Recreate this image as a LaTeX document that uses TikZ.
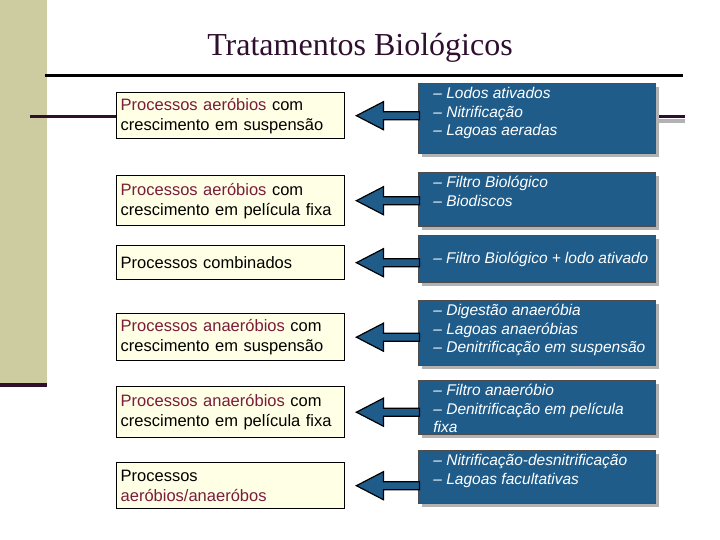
\documentclass[tikz,border=0pt]{standalone}
\usepackage{fontspec}
\setmainfont{Liberation Sans}
\newfontfamily\tituloFont{Liberation Serif}
\usetikzlibrary{shadows}

\definecolor{azul}{HTML}{1F5C8A}
\definecolor{creme}{HTML}{FFFFE6}
\definecolor{vinho}{HTML}{7A1C3A}
\definecolor{roxo}{HTML}{2E0F2E}
\definecolor{oliva}{HTML}{CDCCA0}

\newcommand{\realce}[1]{\textcolor{vinho}{#1}}
\newcommand{\itens}[2]{\parbox[t][#1pt][t]{215pt}{\raggedright #2}}

\begin{document}
\begin{tikzpicture}
			[x=1pt,y=-1pt,line join=miter,
			%Styles
			processo/.style={draw=black,line width=1.4pt,fill=creme,anchor=north west,
				minimum width=228pt,text width=220pt,inner xsep=4pt,inner ysep=0pt,align=left,
				font=\fontsize{16.5}{20}\selectfont},
			exemplo/.style={draw=black!70,line width=0.8pt,fill=azul,anchor=north west,
				inner xsep=0pt,inner ysep=0pt,text=white,font=\fontsize{15.5}{18.5}\selectfont\itshape,
				drop shadow={shadow xshift=4pt,shadow yshift=-4pt,opacity=1,fill=gray!60}},
			seta/.style={fill=azul,draw=black,line width=1.2pt}
			]
			
			%Background
			\useasboundingbox (0,0) rectangle (720,540);
			\fill[oliva] (0,0) rectangle (47,383);
			\fill[roxo] (0,383) rectangle (47,387);
			\draw[black,line width=3pt] (45,76) -- (683,76);
			\draw[roxo,line width=3pt] (30,117) -- (116,117);
			\draw[gray!60,line width=4pt] (657,121) -- (685,121);
			\draw[roxo,line width=3pt] (655,117) -- (685,117);
			\node[font=\tituloFont\fontsize{32}{36}\selectfont,text=roxo] (titulo) at (360,48) {Tratamentos Biológicos};
			
			%The graphic
			\node[processo,minimum height=46pt] (p1) at (116,92) {\realce{Processos aeróbios} com\\crescimento em suspensão};
			\node[processo,minimum height=50pt] (p2) at (116,175) {\realce{Processos aeróbios} com\\crescimento em película fixa};
			\node[processo,minimum height=34pt] (p3) at (116,245) {Processos combinados};
			\node[processo,minimum height=47pt] (p4) at (116,313) {\realce{Processos anaeróbios} com\\crescimento em suspensão};
			\node[processo,minimum height=51pt] (p5) at (116,386) {\realce{Processos anaeróbios} com\\crescimento em película fixa};
			\node[processo,minimum height=46pt] (p6) at (116,462) {Processos\\\realce{aeróbios/anaeróbos}};
			
			\node[exemplo] (b1) at (418,83) {\hspace*{15pt}\itens{70}{\vspace*{4pt}– Lodos ativados\\– Nitrificação\\– Lagoas aeradas}\hspace*{7pt}};
			\node[exemplo] (b2) at (418,172) {\hspace*{15pt}\itens{54}{\vspace*{4pt}– Filtro Biológico\\– Biodiscos}\hspace*{7pt}};
			\node[exemplo] (b3) at (418,235) {\hspace*{15pt}\itens{47}{\vspace*{17pt}– Filtro Biológico + lodo ativado}\hspace*{7pt}};
			\node[exemplo] (b4) at (418,300) {\hspace*{15pt}\itens{65}{\vspace*{4pt}– Digestão anaeróbia\\– Lagoas anaeróbias\\– Denitrificação em suspensão}\hspace*{7pt}};
			\node[exemplo] (b5) at (418,380) {\hspace*{15pt}\itens{54}{\vspace*{4pt}– Filtro anaeróbio\\– Denitrificação em película fixa}\hspace*{7pt}};
			\node[exemplo] (b6) at (418,450) {\hspace*{15pt}\itens{53}{\vspace*{4pt}– Nitrificação-desnitrificação\\– Lagoas facultativas}\hspace*{7pt}};
			
			\foreach \i in {1,...,6}
				\draw[seta] ([xshift=11pt]p\i.east) -- ++(27,-14) -- ++(0,10) -- ++(36,0)
					-- ++(0,8) -- ++(-36,0) -- ++(0,10) -- cycle;
		\end{tikzpicture}
\end{document}
